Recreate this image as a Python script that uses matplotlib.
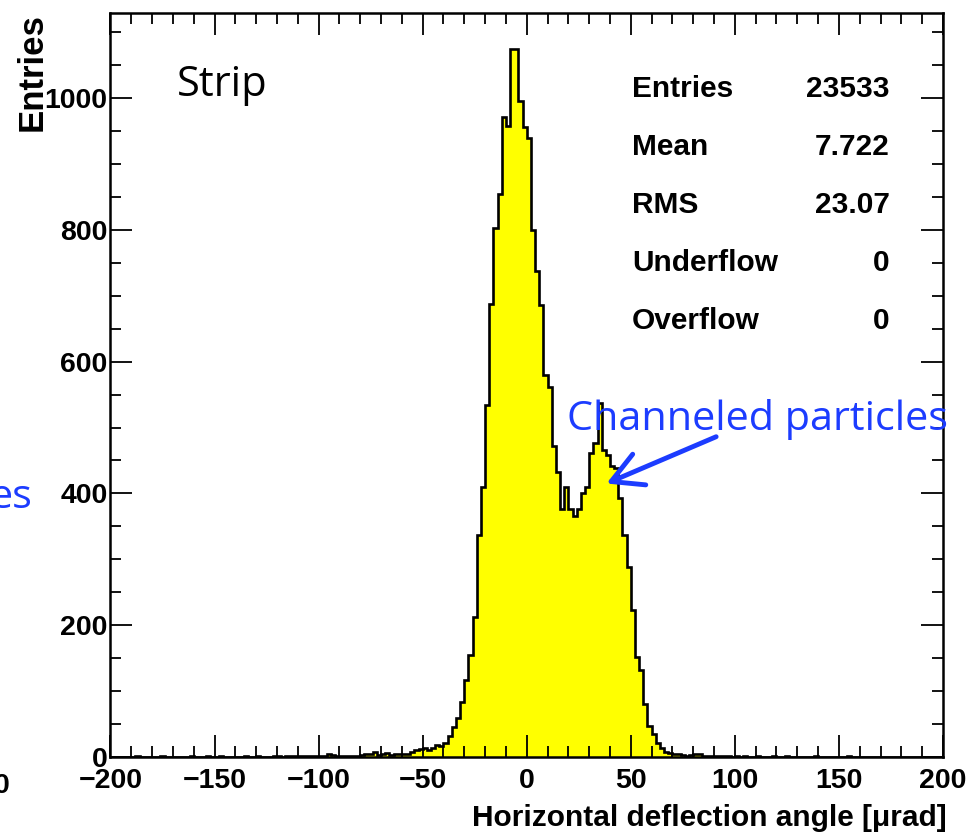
import numpy as np
import matplotlib
matplotlib.use('Agg')
import matplotlib.pyplot as plt
from matplotlib.ticker import MultipleLocator

# bin edges: 2 urad bins from -200 to 200
edges = np.arange(-200, 202, 2)

# counts per bin (left edge of each segment in comment)
counts_far_left = [0, 0, 0, 0, 0, 0, 1, 0, 0, 0, 0, 0, 1, 0, 0, 0, 0, 0, 0, 1,
                   0, 0, 0, 1, 0, 0, 1, 0, 0, 0, 0, 0, 1, 0, 0, 1, 0, 0, 0, 1]   # -200
counts_left_tail = [1, 0, 1, 2, 2, 1, 1, 2, 1, 1, 2, 2, 5, 3, 2, 2, 1, 2, 2, 2,
                    3, 5, 4, 7, 3, 4, 6, 3, 4, 4]                                  # -120
counts_rise = [5, 5, 7, 10, 12, 13, 11, 14, 18, 17]                                # -60
counts_peak = [22, 32, 45, 59, 84, 117, 155, 213, 337, 410,
               534, 688, 802, 854, 971, 958, 1074, 1075, 995, 956]                 # -40
counts_dip = [940, 800, 737, 686, 580, 562, 472, 432, 377, 410,
              377, 365, 377, 400, 410, 462, 476, 537, 466, 458]                    # 0
counts_fall = [442, 438, 393, 337, 289, 223, 152, 132, 81, 47,
               35, 21, 13, 8, 6, 4, 4, 3, 2, 3]                                    # 40
counts_right_tail = [4, 4, 2, 2, 1, 1, 2, 1, 1, 0, 1, 0, 1, 0, 0, 1, 0, 0, 0, 1]  # 80
counts_far_right = [0, 0, 1, 0, 0, 0, 0, 0, 0, 1, 0, 0, 0, 0, 0, 0, 0, 1, 0, 0,
                    0, 0, 0, 0, 0, 0, 0, 0, 0, 0, 0, 0, 0, 0, 0, 0, 0, 0, 0, 0]   # 120

counts = np.array(counts_far_left + counts_left_tail + counts_rise + counts_peak
                  + counts_dip + counts_fall + counts_right_tail + counts_far_right)

stat_names = ['Entries', 'Mean', 'RMS', 'Underflow', 'Overflow']
stat_values = ['23533', '7.722', '23.07', '0', '0']

W, H = 979, 838
BOLD = ['Liberation Sans', 'DejaVu Sans']
BLUE = '#1c3cff'


def px(x, y):
    # pixel position (from top-left) -> figure fraction
    return x / W, 1 - y / H


fig = plt.figure(figsize=(W / 100, H / 100), dpi=100)
ax = fig.add_axes([110.5 / W, 81 / H, 832.5 / W, 744 / H])

ax.stairs(counts, edges, fill=True, color='#ffff00', zorder=1)
ax.stairs(counts, edges, color='black', lw=1.9, zorder=2)

ax.set_xlim(-200, 200)
ax.set_ylim(0, 1129)

ax.xaxis.set_major_locator(MultipleLocator(50))
ax.xaxis.set_minor_locator(MultipleLocator(10))
ax.yaxis.set_major_locator(MultipleLocator(200))
ax.yaxis.set_minor_locator(MultipleLocator(50))
ax.tick_params(which='both', direction='in', top=True, right=True, width=1.3, colors='black')
ax.tick_params(which='major', length=16)
ax.tick_params(which='minor', length=8)
ax.tick_params(axis='x', which='major', pad=8)
ax.tick_params(axis='y', which='major', pad=2)
for lab in ax.get_xticklabels() + ax.get_yticklabels():
    lab.set_family(BOLD)
    lab.set_fontweight('bold')
    lab.set_fontsize(20.5)
for sp in ax.spines.values():
    sp.set_linewidth(1.8)

fig.text(*px(32, 13), 'Entries', rotation=90, ha='center', va='top',
         family=BOLD, fontweight='bold', fontsize=25)
fig.text(*px(947, 826), 'Horizontal deflection angle [μrad]', ha='right', va='baseline',
         family=BOLD, fontweight='bold', fontsize=21.5)

# stats box (no border)
baselines = [97, 155, 213, 271, 329]
for name, val, yb in zip(stat_names, stat_values, baselines):
    fig.text(*px(632, yb), name, ha='left', va='baseline',
             family=BOLD, fontweight='bold', fontsize=21.5)
    fig.text(*px(890, yb), val, ha='right', va='baseline',
             family=BOLD, fontweight='bold', fontsize=21.5)

fig.text(*px(177, 96), 'Strip', ha='left', va='baseline', family='Open Sans', fontsize=30)
fig.text(*px(567, 430), 'Channeled particles', ha='left', va='baseline',
         family='Open Sans', fontsize=29.8, color=BLUE)
fig.text(*px(33, 508), 'es', ha='right', va='baseline', family='Open Sans',
         fontsize=29.8, color=BLUE)
fig.text(*px(10, 793), '0', ha='right', va='baseline', family=BOLD,
         fontweight='bold', fontsize=20.5)

ax.annotate('', xy=(38.3, 415), xytext=(91, 486),
            arrowprops=dict(arrowstyle='->,head_length=1.1,head_width=0.6', color=BLUE,
                            lw=3.5, mutation_scale=20, shrinkA=0, shrinkB=0),
            zorder=5)

fig.savefig('out.png', dpi=100)
